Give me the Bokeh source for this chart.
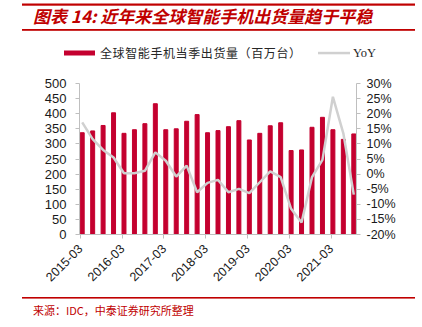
import math
from bokeh.plotting import figure
from bokeh.layouts import column
from bokeh.models import Range1d, LinearAxis, FixedTicker, NumeralTickFormatter, Div
from bokeh.embed import file_html
from bokeh.resources import INLINE

# ---------------- data ----------------
quarters = ["2015-03", "2015-06", "2015-09", "2015-12",
            "2016-03", "2016-06", "2016-09", "2016-12",
            "2017-03", "2017-06", "2017-09", "2017-12",
            "2018-03", "2018-06", "2018-09", "2018-12",
            "2019-03", "2019-06", "2019-09", "2019-12",
            "2020-03", "2020-06", "2020-09", "2020-12",
            "2021-03", "2021-06", "2021-09"]
shipments = [337, 343, 361, 403, 335, 347, 367, 433, 347, 350, 375, 397,
             337, 344, 357, 377, 313, 335, 360, 370, 278, 280, 355, 388,
             347, 315, 333]
yoy_pct = [17.1, 11.6, 8.0, 5.5, 0.3, 0.3, 1.1, 7.2, 4.4, -0.8, 2.8, -6.0,
           -2.9, -1.9, -6.0, -4.9, -6.3, -2.7, 0.9, -1.0, -11.5, -16.0, -1.0, 4.7,
           25.6, 13.5, -6.8]
left_ticks = [0, 50, 100, 150, 200, 250, 300, 350, 400, 450, 500]
right_ticks = [-20, -15, -10, -5, 0, 5, 10, 15, 20, 25, 30]
series_names = ["全球智能手机当季出货量（百万台）", "YoY"]
title_text = "图表 14: 近年来全球智能手机出货量趋于平稳"
source_text = "来源：IDC，中泰证券研究所整理"

RED = "#C00000"
BAR = "#C4002F"
GREY_LINE = "#D0D0D0"
AX = "#BFBFBF"
CJK = "Noto Sans CJK SC"
LAT = "Liberation Sans"
SERIF = "Liberation Serif"

x = list(range(len(quarters)))
yoy = [v / 100 for v in yoy_pct]


def svg_rules(width, height, rects):
    body = "".join(f'<rect x="{l}" y="{t}" width="{w}" height="{h}" fill="{c}"/>'
                   for l, t, w, h, c in rects)
    return (f'<svg style="position:absolute; left:0; top:0; z-index:5; pointer-events:none;" '
            f'width="{width}" height="{height}" '
            f'xmlns="http://www.w3.org/2000/svg">{body}</svg>')


# ---------------- header: title, rules and legend ----------------
head_html = (
    '<div style="position:relative; width:422px; height:66px; overflow:hidden; background:transparent;">'
    + f'<div style="position:absolute; z-index:1; left:33px; top:5.5px; height:20px; line-height:20px; '
    f'background:transparent; white-space:nowrap; font-family:\'{CJK}\'; font-size:17px; '
    f'font-weight:bold; font-style:italic; color:{RED};">{title_text}</div>'
    + f'<div style="position:absolute; z-index:1; left:100px; top:45px; height:16px; line-height:16px; '
    f'background:transparent; white-space:nowrap; font-family:\'{CJK}\'; font-size:12px; '
    f'letter-spacing:0.6px; color:#262626;">{series_names[0]}</div>'
    + f'<div style="position:absolute; z-index:1; left:353px; top:45px; height:16px; line-height:16px; '
    f'background:transparent; white-space:nowrap; font-family:\'{SERIF}\'; font-size:12.5px; '
    f'color:#262626;">{series_names[1]}</div>'
    + svg_rules(422, 66, [(22, 3.5, 393, 2.2, RED), (22, 29, 393, 1.8, RED),
                          (64, 50.5, 31, 5, BAR), (318, 51.8, 32, 2.5, GREY_LINE)])
    + '</div>')
head = Div(width=422, height=66, margin=0, text=head_html)

# ---------------- main chart ----------------
p = figure(width=422, height=228, output_backend="svg", toolbar_location=None,
           x_range=Range1d(-0.26, len(quarters) - 1 + 0.26), y_range=Range1d(0, 500),
           min_border_left=79, min_border_right=66, min_border_top=17, min_border_bottom=60,
           outline_line_color=None, margin=0)
p.grid.visible = False
p.extra_y_ranges = {"yoy": Range1d(-0.20, 0.30)}

bars = p.vbar(x=x, top=shipments, width=0.38, color=BAR)
line = p.line(x=x, y=yoy, y_range_name="yoy", line_color=GREY_LINE, line_width=2.5)

tick_idx = list(range(0, len(quarters), 4))
tick_pos = [i - 0.18 for i in tick_idx]
xa = p.xaxis[0]
xa.ticker = FixedTicker(ticks=tick_pos)
xa.major_label_overrides = {t: quarters[i] for t, i in zip(tick_pos, tick_idx)}
xa.major_label_orientation = math.pi / 4

ya = p.yaxis[0]
ya.ticker = FixedTicker(ticks=left_ticks)

ra = LinearAxis(y_range_name="yoy", ticker=FixedTicker(ticks=[t / 100 for t in right_ticks]),
                formatter=NumeralTickFormatter(format="0%"))
p.add_layout(ra, "right")

for ax in (xa, ya, ra):
    ax.axis_line_color = AX
    ax.major_tick_line_color = AX
    ax.major_tick_out = 4
    ax.major_tick_in = 0
    ax.minor_tick_line_color = None
    ax.major_label_text_font = LAT
    ax.major_label_text_font_size = "12.5px"
    ax.major_label_text_color = "#1a1a1a"
xa.major_label_standoff = 8
ya.major_label_text_font_size = "13px"
ya.major_label_standoff = 9
ra.major_label_standoff = 6

# ---------------- footer ----------------
foot_html = (
    '<div style="position:relative; width:422px; height:33px; overflow:hidden;">'
    + svg_rules(422, 33, [(22, 3, 393, 1.6, RED)])
    + f'<div style="position:absolute; left:33px; top:6px; height:20px; line-height:20px; '
    f'white-space:nowrap; font-family:\'{CJK}\'; font-size:11px; color:{RED};">{source_text}</div>'
    '</div>')
foot = Div(width=422, height=33, margin=0, text=foot_html)

layout = column(head, p, foot, spacing=0)
open("out.html", "w").write(file_html(layout, INLINE))
